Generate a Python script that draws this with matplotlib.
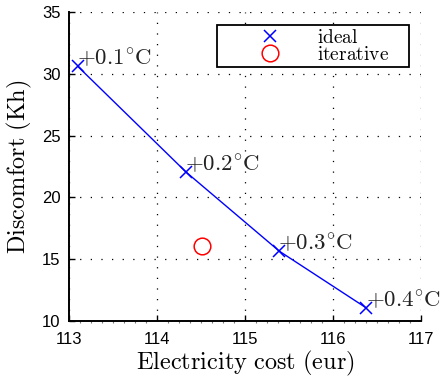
import matplotlib.pyplot as plt
from matplotlib.ticker import MultipleLocator

plt.rcParams["mathtext.fontset"] = "cm"

# ideal points (cost, discomfort) and their setpoint offsets
ideal_cost = [113.10, 114.33, 115.39, 116.38]
ideal_discomfort = [30.6, 22.05, 15.65, 11.05]
offsets = ["0.1", "0.2", "0.3", "0.4"]

iter_cost = [114.51]
iter_discomfort = [16.07]

fig = plt.figure(figsize=(4.42, 3.78), dpi=100)
ax = fig.add_axes([69 / 442, 1 - 321 / 378, 352 / 442, 309 / 378])

ax.plot(ideal_cost, ideal_discomfort, "-", color="blue", lw=1.0, zorder=3)
ax.plot(ideal_cost, ideal_discomfort, "x", color="blue", ms=9, mew=1.1,
        label=r"$\mathrm{ideal}$", zorder=4)
ax.plot(iter_cost, iter_discomfort, "o", mfc="none", mec="red", ms=12, mew=1.1,
        label=r"$\mathrm{iterative}$", zorder=4)

for x, y, o in zip(ideal_cost, ideal_discomfort, offsets):
    ax.text(x - 0.01, y + 0.05, r"$+%s^{\circ}\mathrm{C}$" % o, fontsize=16.5,
            ha="left", va="baseline", color="#222222", zorder=5)

ax.set_xlim(113, 117)
ax.set_ylim(10, 35)
ax.xaxis.set_major_locator(MultipleLocator(1))
ax.yaxis.set_major_locator(MultipleLocator(5))
ax.xaxis.set_minor_locator(MultipleLocator(0.125))

ax.grid(True, which="major", linestyle=(0, (1, 7.5)), color="black", lw=0.9)
for s in ["top", "right"]:
    ax.spines[s].set_visible(False)
for s in ["left", "bottom"]:
    ax.spines[s].set_linewidth(1.4)

ax.tick_params(which="major", direction="in", length=4, width=1.0,
               labelsize=12, pad=8)
ax.tick_params(axis="y", which="major", pad=6)
ax.tick_params(which="minor", direction="out", length=1.5, width=0.8, color="#777777")
for lab in ax.get_xticklabels() + ax.get_yticklabels():
    lab.set_family("Liberation Sans")

ax.set_xlabel(r"$\mathrm{Electricity\ cost\ (eur)}$", fontsize=17.5, labelpad=1)
ax.set_ylabel(r"$\mathrm{Discomfort\ (Kh)}$", fontsize=17.5, labelpad=6)

leg = ax.legend(loc="upper left", bbox_to_anchor=(0.4205, 0.858, 0.5455, 0.1),
                mode="expand", fontsize=14, frameon=True, fancybox=False,
                edgecolor="black", handlelength=5.2, handletextpad=-0.2,
                borderpad=0.15, labelspacing=-0.1, borderaxespad=0)
leg.get_frame().set_linewidth(1.3)
leg.get_frame().set_alpha(1)

fig.savefig("out.png", dpi=100)
